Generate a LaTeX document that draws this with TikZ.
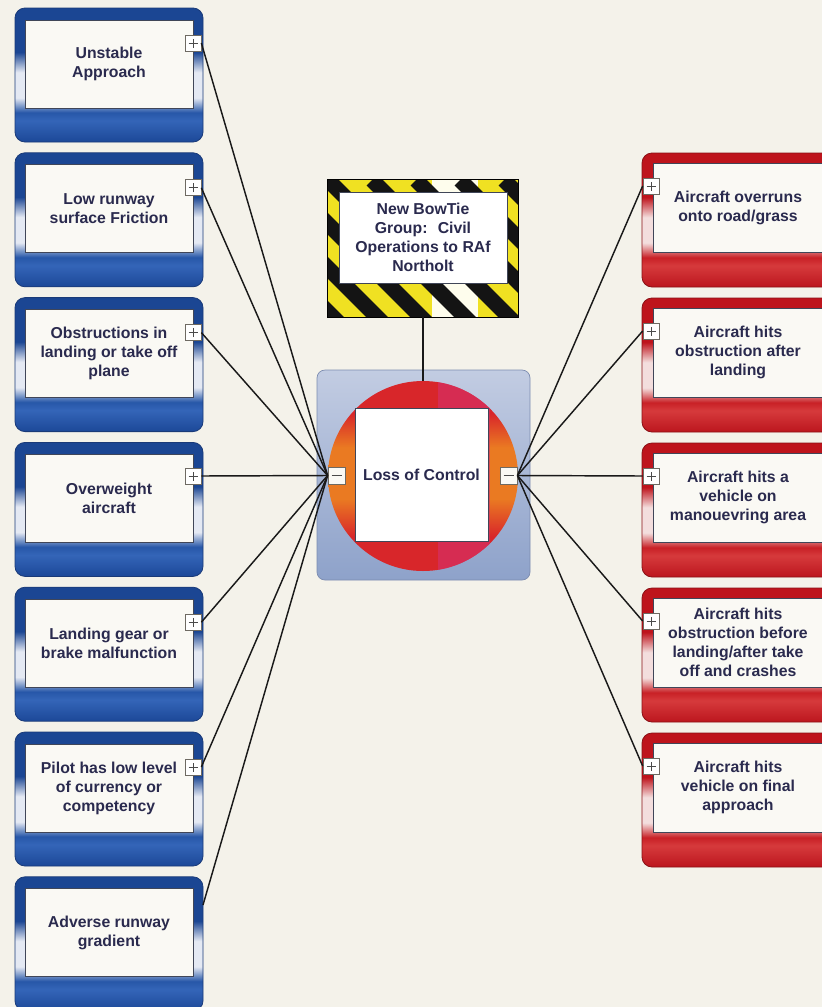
\documentclass[tikz,border=0pt]{standalone}
\usepackage{fontspec}
\setmainfont{Liberation Sans}
\usetikzlibrary{calc}
\definecolor{paper}{HTML}{F4F2EA}
\definecolor{txt}{HTML}{2A2A4E}
\definecolor{innerw}{HTML}{FAF9F4}
\definecolor{innerline}{HTML}{404658}
% blue frame
\definecolor{bdk}{HTML}{1C4898}
\definecolor{btop}{HTML}{1B4693}
\definecolor{bmid}{HTML}{3465B8}
\definecolor{bblue}{HTML}{2757A8}
\definecolor{bpale}{HTML}{E4E9F3}
\definecolor{bedge}{HTML}{1A3A78}
% red frame
\definecolor{rdk}{HTML}{BC161E}
\definecolor{rtop}{HTML}{BE141C}
\definecolor{rmid}{HTML}{D63A3C}
\definecolor{rred}{HTML}{C82026}
\definecolor{rpale}{HTML}{F3DEDD}
\definecolor{redge}{HTML}{8A1015}
% centre
\definecolor{cred}{HTML}{D8262A}
\definecolor{corange}{HTML}{EA7A22}
\definecolor{cmag}{HTML}{D6306E}
\definecolor{bgtop}{HTML}{C2CCE2}
\definecolor{bgbot}{HTML}{8EA2CA}
\definecolor{bgedge}{HTML}{7C8CB0}
\definecolor{hazy}{HTML}{F0E122}
\definecolor{pgray}{HTML}{6E6A62}
\definecolor{pdark}{HTML}{4A4A4A}
\pgfdeclareverticalshading{blueframe}{100bp}{color(0bp)=(bdk); color(25bp)=(bdk); color(33bp)=(bmid); color(36bp)=(bblue); color(41.5bp)=(bpale); color(51bp)=(bpale); color(58.5bp)=(btop); color(75bp)=(btop); color(100bp)=(btop)}
\pgfdeclareverticalshading{redframe}{100bp}{color(0bp)=(rdk); color(25bp)=(rdk); color(33bp)=(rmid); color(36bp)=(rred); color(41.5bp)=(rpale); color(51bp)=(rpale); color(58.5bp)=(rtop); color(75bp)=(rtop); color(100bp)=(rtop)}
\pgfdeclareverticalshading{ballshade}{100bp}{color(0bp)=(cred); color(25bp)=(cred); color(34bp)=(cred); color(44bp)=(corange); color(57.5bp)=(corange); color(66.5bp)=(cred); color(75bp)=(cred); color(100bp)=(cred)}
\tikzset{
  boxtext/.style={font=\bfseries\fontsize{15.8}{19}\selectfont, text=txt, align=center},
  lbox/.style={rectangle, rounded corners=10, minimum width=188, minimum height=134, inner sep=0, shading=blueframe, draw=bedge, line width=0.8},
  rbox/.style={rectangle, rounded corners=10, minimum width=208, minimum height=134, inner sep=0, shading=redframe, draw=redge, line width=0.8},
  linner/.style={boxtext, rectangle, fill=innerw, draw=innerline, line width=0.7, minimum width=168, minimum height=88, inner sep=0},
  rinner/.style={boxtext, rectangle, fill=innerw, draw=innerline, line width=0.7, minimum width=170, minimum height=89, inner sep=0},
  pbox/.style={rectangle, minimum size=16, inner sep=0, fill=white, draw=pgray, line width=0.7,
    path picture={
      \draw[line width=0.9, pdark] ([xshift=-4.5pt]path picture bounding box.center) -- ([xshift=4.5pt]path picture bounding box.center);
      \draw[line width=0.9, pdark] ([yshift=-4.5pt]path picture bounding box.center) -- ([yshift=4.5pt]path picture bounding box.center);}},
  mbox/.style={rectangle, minimum size=17, inner sep=0, fill=innerw, draw=pgray, line width=0.8,
    path picture={
      \draw[line width=1, pdark] ([xshift=-5pt]path picture bounding box.center) -- ([xshift=5pt]path picture bounding box.center);}},
  conn/.style={draw=black!90, line width=1.45},
}
\begin{document}
\begin{tikzpicture}[x=1pt,y=-1pt]
\useasboundingbox (0,0) rectangle (822,1007);
\fill[paper] (0,0) rectangle (822,1007);
\begin{scope}
\clip (0,0) rectangle (822,1007);

% ---------- left (threat) boxes ----------
\node[lbox] (L1) at (109,75) {};
\node[linner] (L1t) at (109,64) {Unstable\\Approach};
\node[pbox] (L1p) at (193,43) {};

\node[lbox] (L2) at (109,219.8) {};
\node[linner] (L2t) at (109,208.8) {Low runway\\surface Friction};
\node[pbox] (L2p) at (193,187.8) {};

\node[lbox] (L3) at (109,364.6) {};
\node[linner] (L3t) at (109,353.6) {Obstructions in\\landing or take off\\plane};
\node[pbox] (L3p) at (193,332.6) {};

\node[lbox] (L4) at (109,509.4) {};
\node[linner] (L4t) at (109,498.4) {Overweight\\aircraft};
\node[pbox] (L4p) at (193,476) {};

\node[lbox] (L5) at (109,654.2) {};
\node[linner] (L5t) at (109,643.2) {Landing gear or\\brake malfunction};
\node[pbox] (L5p) at (193,622.2) {};

\node[lbox] (L6) at (109,799) {};
\node[linner] (L6t) at (109,788) {Pilot has low level\\of currency or\\competency};
\node[pbox] (L6p) at (193,767) {};

\node[lbox] (L7) at (109,943.8) {};
\node[linner] (L7t) at (109,932.8) {Adverse runway\\gradient};
\coordinate (L7c) at (203,905);

% ---------- right (consequence) boxes ----------
\node[rbox] (R1) at (746,220) {};
\node[rinner] (R1t) at (738,207.5) {Aircraft overruns\\onto road/grass};
\node[pbox] (R1p) at (651,186) {};

\node[rbox] (R2) at (746,365) {};
\node[rinner] (R2t) at (738,352.5) {Aircraft hits\\obstruction after\\landing};
\node[pbox] (R2p) at (651,331) {};

\node[rbox] (R3) at (746,510) {};
\node[rinner] (R3t) at (738,497.5) {Aircraft hits a\\vehicle on\\manouevring area};
\node[pbox] (R3p) at (651,476) {};

\node[rbox] (R4) at (746,655) {};
\node[rinner] (R4t) at (738,642.5) {Aircraft hits\\obstruction before\\landing/after take\\off and crashes};
\node[pbox] (R4p) at (651,621) {};

\node[rbox] (R5) at (746,800) {};
\node[rinner] (R5t) at (738,787.5) {Aircraft hits\\vehicle on final\\approach};
\node[pbox] (R5p) at (651,766) {};

% ---------- centre ----------
\node[rectangle, rounded corners=8, minimum width=213, minimum height=210, inner sep=0,
      top color=bgtop, bottom color=bgbot, draw=bgedge, line width=0.7] (B) at (423.5,475) {};
\node[circle, minimum size=190, inner sep=0, shading=ballshade] (C) at (423,476) {};
\begin{scope}
  \clip (C.center) circle (95);
  \fill[cmag, opacity=0.6] (438,370) rectangle (490,590);
\end{scope}
\node[rectangle, minimum size=133, inner sep=0, fill=white, draw=innerline, line width=0.8, boxtext] (T) at (421.5,474.5) {Loss of Control};
\node[mbox] (mL) at (336.5,475.5) {};
\node[mbox] (mR) at (508.5,475.5) {};

% ---------- hazard group box ----------
\node[rectangle, minimum width=190, minimum height=137, inner sep=0, fill=hazy] (H) at (423,248.5) {};
\begin{scope}
  \clip (H.north west) rectangle (H.south east);
  \fill[white!92!hazy] (432,180) rectangle (478,317);
  \foreach \k in {-5,...,6} {
    \draw[black!92, line width=15.5] ({328+44*\k},180) -- ++(150,150);
  }
\end{scope}
\draw[black, line width=1] (H.north west) rectangle (H.south east);
\node[rectangle, minimum width=168, minimum height=91, inner sep=0, fill=white, draw=innerline, line width=0.8, boxtext] (Ht) at (423,237.5) {New BowTie\\Group: \ Civil\\Operations to RAf\\Northolt};

% ---------- connectors ----------
\draw[conn] (H.south) -- (C.north);
\draw[conn] (L1p.east) -- (mL.west);
\draw[conn] (L2p.east) -- (mL.west);
\draw[conn] (L3p.east) -- (mL.west);
\draw[conn] (L4p.east) -- (mL.west);
\draw[conn] (L5p.east) -- (mL.west);
\draw[conn] (L6p.east) -- (mL.west);
\draw[conn] (L7c) -- (mL.west);
\draw[conn] (mR.east) -- (R1p.west);
\draw[conn] (mR.east) -- (R2p.west);
\draw[conn] (mR.east) -- (R3p.west);
\draw[conn] (mR.east) -- (R4p.west);
\draw[conn] (mR.east) -- (R5p.west);
\end{scope}
\end{tikzpicture}
\end{document}
